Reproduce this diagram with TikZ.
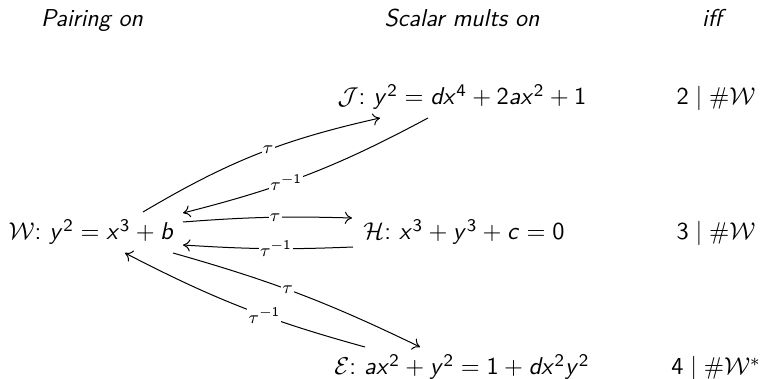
\documentclass[tikz,border=0pt]{standalone}
\usetikzlibrary{arrows.meta}
\DeclareSymbolFont{sfit}{OT1}{cmss}{m}{sl}
\SetSymbolFont{operators}{normal}{OT1}{cmss}{m}{n}
\DeclareMathSymbol{a}{\mathalpha}{sfit}{`a}
\DeclareMathSymbol{b}{\mathalpha}{sfit}{`b}
\DeclareMathSymbol{c}{\mathalpha}{sfit}{`c}
\DeclareMathSymbol{d}{\mathalpha}{sfit}{`d}
\DeclareMathSymbol{x}{\mathalpha}{sfit}{`x}
\DeclareMathSymbol{y}{\mathalpha}{sfit}{`y}
\newcommand{\mycol}{\colon\,}
\begin{document}
\begin{tikzpicture}[x=0.45pt,y=-0.45pt,
  base/.style={inner sep=0pt,outer sep=0pt,anchor=base,font=\fontsize{11}{13}\selectfont\sffamily},
  hdr/.style={base,font=\fontsize{11}{13}\selectfont\sffamily\itshape},
  eq/.style={base},
  arr/.style={-{To[length=3.2pt,width=5.5pt]},line width=0.45pt},
  lab/.style={fill=white,inner sep=0.6pt,font=\fontsize{8.5}{10}\selectfont}]
\useasboundingbox (0,0) rectangle (762,379);
\node[hdr] (h1) at (92,27) {Pairing on};
\node[hdr] (h2) at (462,27) {Scalar mults on};
\node[hdr] (h3) at (712,27) {iff};
\node[eq] (W) at (91,240) {$\mathcal{W}\mycol y^2=x^3+b$};
\node[eq] (J) at (462,105) {$\mathcal{J}\mycol y^2=dx^4+2ax^2+1$};
\node[eq] (H) at (464,240) {$\mathcal{H}\mycol x^3+y^3+c=0$};
\node[eq] (E) at (462,375) {$\mathcal{E}\mycol ax^2+y^2=1+dx^2y^2$};
\node[eq] (c2) at (716,105) {$2\mid\#\mathcal{W}$};
\node[eq] (c3) at (716,240) {$3\mid\#\mathcal{W}$};
\node[eq] (c4) at (716,375) {$4\mid\#\mathcal{W}^*$};
% W <-> J
\draw[arr] ([shift={(52,-28)}]W.base) to[bend left=9]
  node[lab,pos=0.55] {$\tau$} ([shift={(-82,13)}]J.base);
\draw[arr] ([shift={(-34,13)}]J.base) to[bend left=7]
  node[lab,pos=0.6] {$\tau^{-1}$} ([shift={(92,-27)}]W.base);
% W <-> H
\draw[arr] ([shift={(92,-18)}]W.base) to[bend left=3]
  node[lab,pos=0.55] {$\tau$} ([shift={(-112,-22)}]H.base);
\draw[arr] ([shift={(-111,7)}]H.base) to[bend left=3]
  node[lab,pos=0.45] {$\tau^{-1}$} ([shift={(92,5)}]W.base);
% W <-> E
\draw[arr] ([shift={(82,13)}]W.base) to[bend left=5]
  node[lab,pos=0.45] {$\tau$} ([shift={(-42,-28)}]E.base);
\draw[arr] ([shift={(-97,-28)}]E.base) to[bend left=6]
  node[lab,pos=0.4] {$\tau^{-1}$} ([shift={(34,13)}]W.base);
\end{tikzpicture}
\end{document}
